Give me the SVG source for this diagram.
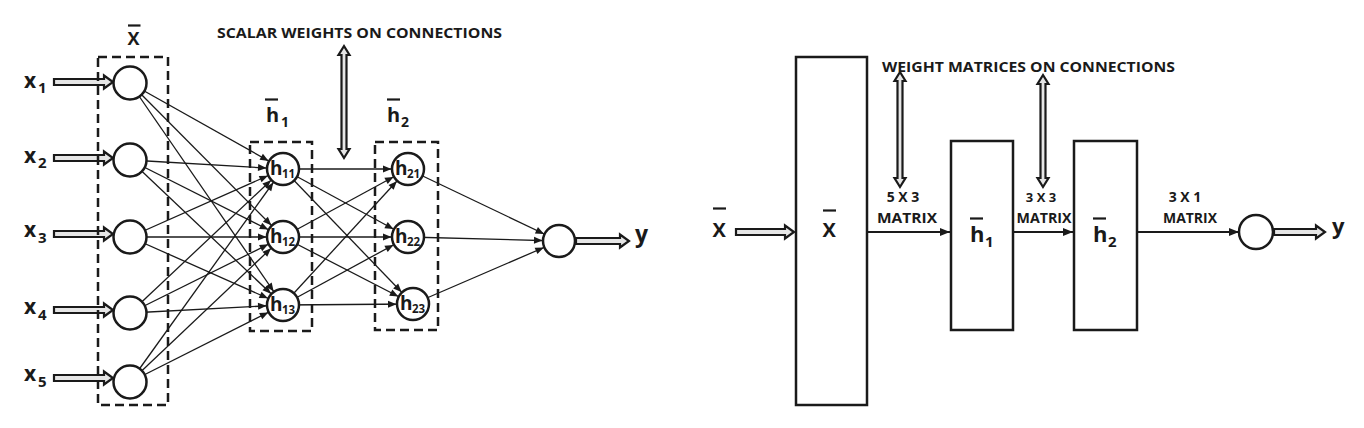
<svg xmlns="http://www.w3.org/2000/svg" width="1364" height="428" viewBox="0 0 1364 428">
<style>
.t{font-family:"Open Sans","Liberation Sans",Arial,sans-serif;font-weight:bold;fill:#1a1a1a}
.n{fill:#fff;stroke:#1a1a1a;stroke-width:2.5}
.box{fill:none;stroke:#1a1a1a;stroke-width:2.5;stroke-dasharray:9 5}
.rb{fill:#fff;stroke:#1a1a1a;stroke-width:2.5}
.c{stroke:#1a1a1a;stroke-width:1.3;fill:none;marker-end:url(#ah)}
.c2{stroke:#1a1a1a;stroke-width:2;fill:none;marker-end:url(#ah2)}
.da{fill:#e6e6e6;stroke:#1a1a1a;stroke-width:2.2;stroke-linejoin:miter}
.ol{stroke:#1a1a1a;stroke-width:2.2}
</style>
<defs>
<marker id="ah" markerUnits="userSpaceOnUse" markerWidth="30" markerHeight="10" refX="0" refY="0" orient="auto" overflow="visible">
<path d="M-16.5,0 L-25,-3.5 L-25,3.5 Z" fill="#1a1a1a"/>
</marker>
<marker id="ah2" markerUnits="userSpaceOnUse" markerWidth="12" markerHeight="10" refX="10" refY="0" orient="auto" overflow="visible">
<path d="M0,-4 L10,0 L0,4 Z" fill="#1a1a1a"/>
</marker>
</defs>
<rect width="1364" height="428" fill="#fff"/>

<g id="connectors">
<line class="c" x1="130" y1="83" x2="283" y2="169"/>
<line class="c" x1="130" y1="83" x2="283" y2="237"/>
<line class="c" x1="130" y1="83" x2="283" y2="305"/>
<line class="c" x1="130" y1="160" x2="283" y2="169"/>
<line class="c" x1="130" y1="160" x2="283" y2="237"/>
<line class="c" x1="130" y1="160" x2="283" y2="305"/>
<line class="c" x1="130" y1="237" x2="283" y2="169"/>
<line class="c" x1="130" y1="237" x2="283" y2="237"/>
<line class="c" x1="130" y1="237" x2="283" y2="305"/>
<line class="c" x1="130" y1="313" x2="283" y2="169"/>
<line class="c" x1="130" y1="313" x2="283" y2="237"/>
<line class="c" x1="130" y1="313" x2="283" y2="305"/>
<line class="c" x1="130" y1="382" x2="283" y2="169"/>
<line class="c" x1="130" y1="382" x2="283" y2="237"/>
<line class="c" x1="130" y1="382" x2="283" y2="305"/>
<line class="c" x1="283" y1="169" x2="408" y2="169"/>
<line class="c" x1="283" y1="169" x2="408" y2="237"/>
<line class="c" x1="283" y1="169" x2="413" y2="304"/>
<line class="c" x1="283" y1="237" x2="408" y2="169"/>
<line class="c" x1="283" y1="237" x2="408" y2="237"/>
<line class="c" x1="283" y1="237" x2="413" y2="304"/>
<line class="c" x1="283" y1="305" x2="408" y2="169"/>
<line class="c" x1="283" y1="305" x2="408" y2="237"/>
<line class="c" x1="283" y1="305" x2="413" y2="304"/>
<line class="c" x1="408" y1="169" x2="559" y2="241"/>
<line class="c" x1="408" y1="237" x2="559" y2="241"/>
<line class="c" x1="413" y1="304" x2="559" y2="241"/>
<path class="da" d="M54,79 H104 V75.5 L113,82 L104,88.5 V85 H54 Z"/>
<path class="da" d="M54,155 H104 V151.5 L113,158 L104,164.5 V161 H54 Z"/>
<path class="da" d="M54,231 H104 V227.5 L113,234 L104,240.5 V237 H54 Z"/>
<path class="da" d="M54,307 H104 V303.5 L113,310 L104,316.5 V313 H54 Z"/>
<path class="da" d="M54,375 H104 V371.5 L113,378 L104,384.5 V381 H54 Z"/>
<path class="da" d="M576,238 H620 V234.5 L629,241 L620,247.5 V244 H576 Z"/>
<path class="da" d="M341.5,55 H338.5 L344,46 L349.5,55 H346.5 V149 H349.5 L344,158 L338.5,149 H341.5 Z"/>
<path class="da" d="M736,229 H785 V225.5 L794,232 L785,238.5 V235 H736 Z"/>
<line class="c2" x1="868" y1="232" x2="950" y2="232"/>
<line class="c2" x1="1014" y1="232" x2="1073" y2="232"/>
<line class="c2" x1="1138" y1="232" x2="1239" y2="232"/>
<path class="da" d="M1274,229 H1316 V225.5 L1325,232 L1316,238.5 V235 H1274 Z"/>
<path class="da" d="M897.5,81 H894.5 L900,72 L905.5,81 H902.5 V178 H905.5 L900,187 L894.5,178 H897.5 Z"/>
<path class="da" d="M1040.5,84 H1037.5 L1043,75 L1048.5,84 H1045.5 V178 H1048.5 L1043,187 L1037.5,178 H1040.5 Z"/>
</g>

<g id="layer-x">
<rect class="box" x="98" y="57" width="70" height="348"/>
<line class="ol" x1="128" y1="25.5" x2="140.5" y2="25.5"/>
<text class="t" x="127.5" y="45" font-size="18">X</text>
</g>
<g id="layer-h1">
<rect class="box" x="250" y="142" width="62" height="189"/>
<line class="ol" x1="265" y1="99.5" x2="278" y2="99.5"/>
<text class="t" x="266" y="122" font-size="20">h</text>
<text class="t" x="281" y="127" font-size="14">1</text>
</g>
<g id="layer-h2">
<rect class="box" x="375" y="142" width="63" height="188"/>
<line class="ol" x1="387" y1="99.5" x2="400" y2="99.5"/>
<text class="t" x="387" y="122" font-size="20">h</text>
<text class="t" x="401" y="127" font-size="14">2</text>
</g>

<g id="x1"><circle class="n" cx="130" cy="83" r="16.5"/><text class="t" x="24" y="88" font-size="21">x</text><text class="t" x="38" y="93" font-size="15">1</text></g>
<g id="x2"><circle class="n" cx="130" cy="160" r="16.5"/><text class="t" x="24" y="163" font-size="21">x</text><text class="t" x="38" y="168" font-size="15">2</text></g>
<g id="x3"><circle class="n" cx="130" cy="237" r="16.5"/><text class="t" x="24" y="237" font-size="21">x</text><text class="t" x="38" y="243" font-size="15">3</text></g>
<g id="x4"><circle class="n" cx="130" cy="313" r="16.5"/><text class="t" x="24" y="314" font-size="21">x</text><text class="t" x="38" y="320" font-size="15">4</text></g>
<g id="x5"><circle class="n" cx="130" cy="382" r="16.5"/><text class="t" x="24" y="381" font-size="21">x</text><text class="t" x="38" y="387" font-size="15">5</text></g>

<g id="h11"><circle class="n" cx="283" cy="169" r="16"/><text class="t" x="270" y="175" font-size="19">h</text><text class="t" x="282" y="178" font-size="11.5">11</text></g>
<g id="h12"><circle class="n" cx="283" cy="237" r="16"/><text class="t" x="270" y="243" font-size="19">h</text><text class="t" x="282" y="246" font-size="11.5">12</text></g>
<g id="h13"><circle class="n" cx="283" cy="305" r="16"/><text class="t" x="270" y="311" font-size="19">h</text><text class="t" x="282" y="314" font-size="11.5">13</text></g>
<g id="h21"><circle class="n" cx="408" cy="169" r="16"/><text class="t" x="395" y="175" font-size="19">h</text><text class="t" x="407" y="178" font-size="11.5">21</text></g>
<g id="h22"><circle class="n" cx="408" cy="237" r="16"/><text class="t" x="395" y="243" font-size="19">h</text><text class="t" x="407" y="246" font-size="11.5">22</text></g>
<g id="h23"><circle class="n" cx="413" cy="304" r="16"/><text class="t" x="400" y="310" font-size="19">h</text><text class="t" x="412" y="313" font-size="11.5">23</text></g>

<g id="out-left"><circle class="n" cx="559" cy="241" r="16"/></g>
<g id="y-left"><text class="t" x="635" y="242" font-size="23">y</text></g>

<g id="label-scalar"><text class="t" x="217" y="38" font-size="15" textLength="285" lengthAdjust="spacingAndGlyphs">SCALAR WEIGHTS ON CONNECTIONS</text></g>

<g id="x-in-right">
<line class="ol" x1="713" y1="208.5" x2="726" y2="208.5"/>
<text class="t" x="712.5" y="237" font-size="20">X</text>
</g>
<g id="X-block">
<rect class="rb" x="796" y="57" width="71" height="348"/>
<line class="ol" x1="823" y1="210.5" x2="836" y2="210.5"/>
<text class="t" x="822.5" y="237" font-size="20">X</text>
</g>
<g id="h1-block">
<rect class="rb" x="951" y="141" width="62" height="189"/>
<line class="ol" x1="970" y1="218.5" x2="983" y2="218.5"/>
<text class="t" x="970" y="242" font-size="22">h</text>
<text class="t" x="985" y="247" font-size="15">1</text>
</g>
<g id="h2-block">
<rect class="rb" x="1074" y="141" width="63" height="189"/>
<line class="ol" x1="1093" y1="218.5" x2="1106" y2="218.5"/>
<text class="t" x="1093" y="242" font-size="22">h</text>
<text class="t" x="1108" y="247" font-size="15">2</text>
</g>
<g id="out-right"><circle class="n" cx="1256" cy="232" r="17"/></g>
<g id="y-right"><text class="t" x="1332" y="234" font-size="22">y</text></g>

<g id="labels-right">
<text class="t" x="882" y="72" font-size="15" textLength="293" lengthAdjust="spacingAndGlyphs">WEIGHT MATRICES ON CONNECTIONS</text>
<text class="t" x="903" y="202" font-size="14" text-anchor="middle">5 X 3</text>
<text class="t" x="907" y="223" font-size="15" text-anchor="middle" textLength="60" lengthAdjust="spacingAndGlyphs">MATRIX</text>
<text class="t" x="1041" y="202" font-size="13" text-anchor="middle">3 X 3</text>
<text class="t" x="1044" y="223" font-size="14" text-anchor="middle" textLength="55" lengthAdjust="spacingAndGlyphs">MATRIX</text>
<text class="t" x="1185" y="202" font-size="14" text-anchor="middle">3 X 1</text>
<text class="t" x="1190" y="223" font-size="14" text-anchor="middle" textLength="54" lengthAdjust="spacingAndGlyphs">MATRIX</text>
</g>
</svg>
